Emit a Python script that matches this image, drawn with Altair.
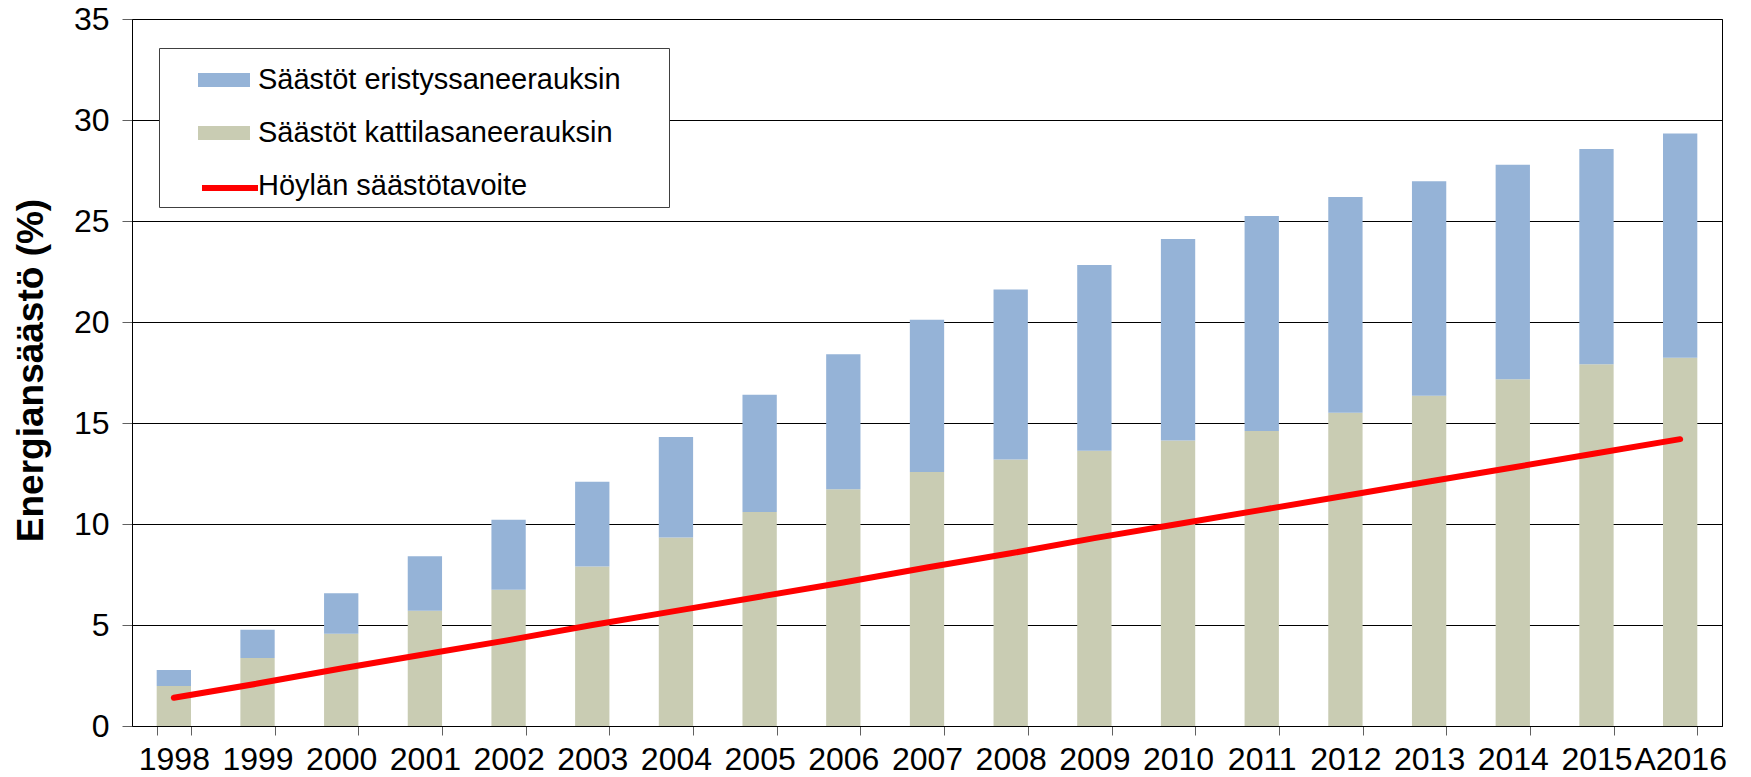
import altair as alt
import pandas as pd

years = ["1998", "1999", "2000", "2001", "2002", "2003", "2004", "2005", "2006",
         "2007", "2008", "2009", "2010", "2011", "2012", "2013", "2014", "2015", "A2016"]
kattila = [1.98, 3.37, 4.57, 5.71, 6.75, 7.89, 9.33, 10.60, 11.72, 12.57,
           13.19, 13.63, 14.13, 14.61, 15.51, 16.35, 17.16, 17.91, 18.23]
eristys = [0.79, 1.40, 2.00, 2.69, 3.46, 4.20, 4.98, 5.80, 6.68, 7.54,
           8.42, 9.19, 9.98, 10.64, 10.68, 10.62, 10.62, 10.65, 11.10]
tavoite = [1.4, 2.1, 2.85, 3.55, 4.25, 5.0, 5.7, 6.4, 7.1, 7.85,
           8.55, 9.3, 10.0, 10.7, 11.4, 12.1, 12.8, 13.5, 14.2]

S_ERI = "Säästöt eristyssaneerauksin"
S_KAT = "Säästöt kattilasaneerauksin"
S_HOY = "Höylän säästötavoite"

bars = pd.DataFrame(
    [{"year": y, "series": S_KAT, "value": v, "ord": 0} for y, v in zip(years, kattila)]
    + [{"year": y, "series": S_ERI, "value": v, "ord": 1} for y, v in zip(years, eristys)]
)
line = pd.DataFrame({"year": years, "series": S_HOY, "value": tavoite})

FONT = "Liberation Sans"

x_enc = alt.X(
    "year:N", sort=years, title=None,
    scale=alt.Scale(paddingInner=0.59, paddingOuter=0.295),
    axis=alt.Axis(labelAngle=0, labelFontSize=32, labelColor="black", labelPadding=9,
                  tickBand="extent", tickSize=9, tickColor="#606060",
                  domainColor="black", grid=False),
)
y_enc = alt.Y(
    "value:Q", stack="zero",
    scale=alt.Scale(domain=[0, 35], nice=False),
    axis=alt.Axis(values=[0, 5, 10, 15, 20, 25, 30, 35], labelFontSize=32, labelColor="black",
                  labelPadding=13, tickSize=10, tickColor="#606060", domainColor="black",
                  grid=True, gridColor="black", gridWidth=1,
                  title="Energiansäästö (%)", titleFontSize=37, titleFontWeight="bold",
                  titleColor="black", titleX=-101, titleY=351, titleAngle=270,
                  titleAlign="center", titleBaseline="middle"),
)

bar_layer = alt.Chart(bars).mark_bar().encode(
    x=x_enc,
    y=y_enc,
    fill=alt.Fill(
        "series:N",
        scale=alt.Scale(domain=[S_ERI, S_KAT, S_HOY], range=["#95B3D7", "#C9CCB3", "transparent"]),
        legend=alt.Legend(
            title=None, orient="none", legendX=27, legendY=29,
            strokeColor="#404040", fillColor="white", padding=6,
            symbolType="M-1,-0.27H1V0.27H-1Z", symbolSize=2704, symbolStrokeWidth=0,
            symbolOffset=33, labelOffset=8, rowPadding=12,
            labelFontSize=29, labelColor="black", labelLimit=700,
            labelExpr="datum.label + '\u2800\u2800'",
        ),
    ),
    order=alt.Order("ord:Q", sort="ascending"),
)

line_layer = alt.Chart(line).mark_line(strokeWidth=6, strokeCap="round").encode(
    x=alt.X("year:N", sort=years),
    y=alt.Y("value:Q"),
    stroke=alt.Stroke(
        "series:N",
        scale=alt.Scale(domain=[S_HOY], range=["#FF0000"]),
        legend=alt.Legend(
            title=None, orient="none", legendX=67, legendY=138, padding=0,
            symbolType="stroke", symbolSize=3136, symbolStrokeWidth=6,
            labelExpr="''", zindex=2,
        ),
    ),
)

chart = (
    alt.layer(bar_layer, line_layer)
    .resolve_scale(fill="independent", stroke="independent")
    .properties(width=1590, height=707, autosize="none",
                padding={"left": 124, "top": 11, "right": 21, "bottom": 50})
    .configure(font=FONT)
    .configure_view(stroke="black", strokeWidth=1)
)

chart.save("out.html", embed_options={"renderer": "svg", "actions": False})
